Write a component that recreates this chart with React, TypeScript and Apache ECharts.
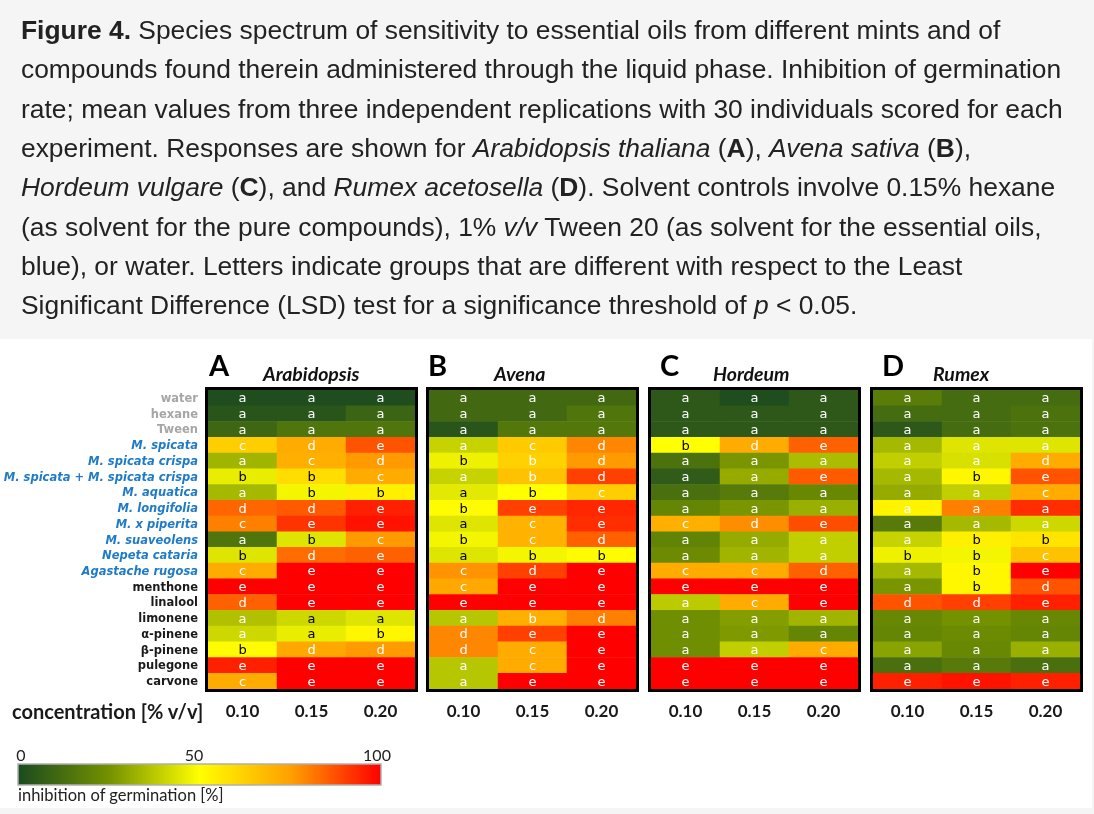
import React, { useEffect, useRef } from 'react';
import * as echarts from 'echarts';

// ---------- data ----------
const concentrations = ['0.10', '0.15', '0.20'];

const treatments = [
  'water', 'hexane', 'Tween',
  'M. spicata', 'M. spicata crispa', 'M. spicata + M. spicata crispa', 'M. aquatica',
  'M. longifolia', 'M. x piperita', 'M. suaveolens', 'Nepeta cataria', 'Agastache rugosa',
  'menthone', 'linalool', 'limonene', 'α-pinene', 'β-pinene', 'pulegone', 'carvone',
];
// c = solvent control, o = essential oil, k = pure compound
const treatmentKind = ['c', 'c', 'c', 'o', 'o', 'o', 'o', 'o', 'o', 'o', 'o', 'o', 'k', 'k', 'k', 'k', 'k', 'k', 'k'];

const panelLetters = ['A', 'B', 'C', 'D'];
const speciesNames = ['Arabidopsis', 'Avena', 'Hordeum', 'Rumex'];

// inhibition of germination [%], rows = treatments, columns = concentrations
const arabidopsisValues = [
  [1, 1, 1], [4, 4, 9], [10, 15, 15],
  [63, 72, 87], [33, 71, 76], [46, 59, 72], [34, 48, 54],
  [84, 86, 95], [80, 92, 97], [15, 44, 76], [44, 83, 85], [72, 100, 100],
  [100, 100, 100], [85, 100, 100], [36, 41, 44], [41, 46, 52], [51, 73, 76], [95, 100, 100], [72, 100, 100],
];
const avenaValues = [
  [11, 11, 11], [11, 11, 15], [4, 16, 16],
  [40, 64, 79], [47, 62, 76], [40, 66, 90], [45, 50, 63],
  [51, 90, 94], [44, 70, 93], [48, 70, 85], [44, 48, 51], [77, 90, 100],
  [73, 100, 100], [100, 100, 100], [37, 71, 80], [79, 90, 100], [79, 72, 100], [37, 72, 100], [37, 100, 100],
];
const hordeumValues = [
  [5, 1, 5], [5, 5, 5], [5, 5, 5],
  [50, 72, 85], [14, 26, 35], [6, 31, 86], [13, 17, 22],
  [21, 26, 32], [71, 78, 88], [20, 31, 39], [23, 33, 39], [72, 72, 85],
  [100, 100, 100], [38, 72, 100], [24, 28, 33], [24, 27, 21], [24, 39, 72], [100, 100, 100], [100, 100, 100],
];
const rumexValues = [
  [18, 12, 12], [12, 12, 14], [5, 12, 14],
  [34, 44, 44], [39, 43, 72], [34, 52, 87], [31, 39, 72],
  [53, 80, 93], [17, 34, 41], [40, 54, 57], [47, 48, 66], [34, 52, 100],
  [26, 52, 87], [87, 90, 95], [22, 25, 22], [21, 23, 21], [29, 22, 32], [13, 17, 13], [95, 97, 95],
];

// LSD group letters; an upper-case letter is printed (lower-case) in black
const arabidopsisLetters = [
  'aaa', 'aaa', 'aaa', 'cde', 'acd', 'BBc', 'aBB', 'dde', 'cee', 'aBc',
  'Bde', 'cee', 'eee', 'dee', 'aAA', 'aAB', 'Bdd', 'eee', 'cee',
];
const avenaLetters = [
  'aaa', 'aaa', 'aaa', 'acd', 'Bbd', 'abd', 'ABc', 'Bee', 'Ace', 'Bcd',
  'ABB', 'cde', 'cee', 'eee', 'abd', 'dee', 'dce', 'ace', 'aee',
];
const hordeumLetters = [
  'aaa', 'aaa', 'aaa', 'Bde', 'aaa', 'aae', 'aaa', 'aaa', 'cde', 'aaa',
  'aaa', 'ccd', 'eee', 'ace', 'aaa', 'aaa', 'aac', 'eee', 'eee',
];
const rumexLetters = [
  'aaa', 'aaa', 'aaa', 'aaa', 'aad', 'aBe', 'aac', 'aaa', 'aaa', 'aBB',
  'BBc', 'aBe', 'aBd', 'dde', 'aaa', 'aaa', 'aaa', 'aaa', 'eee',
];

const colorbarTicks = ['0', '50', '100'];

const captionLines: [string, string][][] = [
  [['b', 'Figure 4.'], ['n', ' Species spectrum of sensitivity to essential oils from different mints and of']],
  [['n', 'compounds found therein administered through the liquid phase. Inhibition of germination']],
  [['n', 'rate; mean values from three independent replications with 30 individuals scored for each']],
  [['n', 'experiment. Responses are shown for '], ['i', 'Arabidopsis thaliana'], ['n', ' ('], ['b', 'A'], ['n', '), '], ['i', 'Avena sativa'], ['n', ' ('], ['b', 'B'], ['n', '),']],
  [['i', 'Hordeum vulgare'], ['n', ' ('], ['b', 'C'], ['n', '), and '], ['i', 'Rumex acetosella'], ['n', ' ('], ['b', 'D'], ['n', '). Solvent controls involve 0.15% hexane']],
  [['n', '(as solvent for the pure compounds), 1% '], ['i', 'v/v'], ['n', ' Tween 20 (as solvent for the essential oils,']],
  [['n', 'blue), or water. Letters indicate groups that are different with respect to the Least']],
  [['n', 'Significant Difference (LSD) test for a significance threshold of '], ['i', 'p'], ['n', ' < 0.05.']],
];

// ---------- styling / layout ----------
const scaleColors = ['#1b4a1f', '#739100', '#ffff00', '#ffa000', '#ff0000'];
const FONT = 'Lato, "Noto Sans", sans-serif';
const SMALLFONT = '"DejaVu Sans", Lato, sans-serif';
const CAPFONT = '"Liberation Sans", Arial, sans-serif';
const CAPSIZE = 26.4;
const panelLeft = [208, 429, 651, 873];
const panelLetterX = [209, 428, 660, 882];
const speciesX = [263, 494, 713, 933];
const GRID_TOP = 390;
const GRID_W = 207;
const GRID_H = 299;

function buildOption() {
  const values = [arabidopsisValues, avenaValues, hordeumValues, rumexValues];
  const letters = [arabidopsisLetters, avenaLetters, hordeumLetters, rumexLetters];

  const grid: any[] = [];
  const xAxis: any[] = [];
  const yAxis: any[] = [];
  const series: any[] = [];
  const graphic: any[] = [];

  // backgrounds
  graphic.push({ type: 'rect', z: -100, silent: true, shape: { x: 0, y: 0, width: 1094, height: 814 }, style: { fill: '#f5f5f5' } });
  graphic.push({ type: 'rect', z: -99, silent: true, shape: { x: 0, y: 339, width: 1092, height: 469 }, style: { fill: '#ffffff' } });

  // caption
  const capRich = {
    n: { fontSize: CAPSIZE, fontFamily: CAPFONT, color: '#222222' },
    b: { fontSize: CAPSIZE, fontFamily: CAPFONT, color: '#222222', fontWeight: 'bold' },
    i: { fontSize: CAPSIZE, fontFamily: CAPFONT, color: '#222222', fontStyle: 'italic' },
  };
  captionLines.forEach((line, li) => {
    graphic.push({
      type: 'text', x: 21, y: 30 + li * 39.3,
      style: {
        text: line.map(([s, t]) => `{${s}|${t}}`).join(''),
        rich: capRich, fontSize: CAPSIZE, fontFamily: CAPFONT, fill: '#222222', verticalAlign: 'middle', align: 'left',
      },
    });
  });

  for (let p = 0; p < 4; p++) {
    grid.push({ left: panelLeft[p], top: GRID_TOP, width: GRID_W, height: GRID_H, containLabel: false, outerBoundsMode: 'none' });
    xAxis.push({
      type: 'category', gridIndex: p, data: concentrations, position: 'bottom',
      axisLine: { show: false }, axisTick: { show: false }, splitLine: { show: false },
      axisLabel: { margin: 13, fontSize: 17, fontWeight: 'bold', color: '#1a1a1a', fontFamily: FONT },
    });
    yAxis.push({
      type: 'category', gridIndex: p, data: treatments, inverse: true,
      axisLine: { show: false }, axisTick: { show: false }, splitLine: { show: false },
      axisLabel: p === 0 ? {
        show: true, interval: 0, margin: 10,
        formatter: (v: string, i: number) => `{${treatmentKind[i]}|${v}}`,
        rich: {
          c: { color: '#a6a6a6', fontWeight: 'bold', fontSize: 11.5, lineHeight: 13, fontFamily: SMALLFONT },
          o: { color: '#1f7bc8', fontWeight: 'bold', fontStyle: 'italic', fontSize: 11.5, lineHeight: 13, fontFamily: SMALLFONT },
          k: { color: '#1a1a1a', fontWeight: 'bold', fontSize: 11.5, lineHeight: 13, fontFamily: SMALLFONT },
        },
      } : { show: false },
    });
    const data: any[] = [];
    values[p].forEach((row, r) => {
      row.forEach((v, c) => {
        const L = letters[p][r][c];
        const dark = L !== L.toLowerCase();
        data.push({ name: L.toLowerCase(), value: [c, r, v], label: { color: dark ? '#000000' : '#ffffff' } });
      });
    });
    series.push({
      type: 'heatmap', xAxisIndex: p, yAxisIndex: p, data,
      label: { show: true, formatter: '{b}', fontSize: 13, lineHeight: 13, fontFamily: SMALLFONT },
      emphasis: { disabled: true },
      itemStyle: { borderWidth: 0 },
    });

    // panel frame
    graphic.push({
      type: 'rect', z: 100, silent: true,
      shape: { x: panelLeft[p] - 1.5, y: GRID_TOP - 1.5, width: GRID_W + 3, height: GRID_H + 3 },
      style: { fill: 'none', stroke: '#000000', lineWidth: 3 },
    });
    // panel letter and species
    graphic.push({
      type: 'text', x: panelLetterX[p], y: 364,
      style: { text: panelLetters[p], fontSize: 29, fontWeight: 'bold', fontFamily: FONT, fill: '#000', verticalAlign: 'middle' },
    });
    graphic.push({
      type: 'text', x: speciesX[p], y: 373,
      style: { text: speciesNames[p], fontSize: 19.5, fontWeight: 'bold', fontStyle: 'italic', fontFamily: FONT, fill: '#111', verticalAlign: 'middle' },
    });
  }

  graphic.push({
    type: 'text', x: 12, y: 711,
    style: { text: 'concentration [% v/v]', fontSize: 20, fontWeight: 'bold', fontFamily: FONT, fill: '#1a1a1a', verticalAlign: 'middle' },
  });

  // colour bar
  const cbX = 18, cbW = 363, cbY = 764, cbH = 21;
  graphic.push({
    type: 'rect', shape: { x: cbX, y: cbY, width: cbW, height: cbH },
    style: {
      fill: new echarts.graphic.LinearGradient(0, 0, 1, 0, scaleColors.map((c, i) => ({ offset: i / (scaleColors.length - 1), color: c }))),
      stroke: '#b0b0b0', lineWidth: 1.5,
    },
  });
  const tickPos = [21, 194, 377];
  colorbarTicks.forEach((t, i) => {
    graphic.push({
      type: 'text', x: tickPos[i], y: 754,
      style: { text: t, fontSize: 16, fontFamily: FONT, fill: '#222', align: 'center', verticalAlign: 'middle' },
    });
  });
  graphic.push({
    type: 'text', x: cbX, y: 795,
    style: { text: 'inhibition of germination [%]', fontSize: 16.5, fontFamily: FONT, fill: '#222', verticalAlign: 'middle' },
  });

  return {
    animation: false,
    grid, xAxis, yAxis, series,
    visualMap: {
      type: 'continuous', show: false, min: 0, max: 100, dimension: 2,
      seriesIndex: [0, 1, 2, 3], inRange: { color: scaleColors },
    },
    graphic,
  };
}

export default function App() {
  const ref = useRef<HTMLDivElement>(null);
  useEffect(() => {
    const chart = echarts.init(ref.current!, null, { renderer: 'svg' });
    chart.setOption(buildOption() as any);
    return () => chart.dispose();
  }, []);
  return <div ref={ref} style={{ position: 'fixed', left: 0, top: 0, width: 1094, height: 814 }} />;
}
